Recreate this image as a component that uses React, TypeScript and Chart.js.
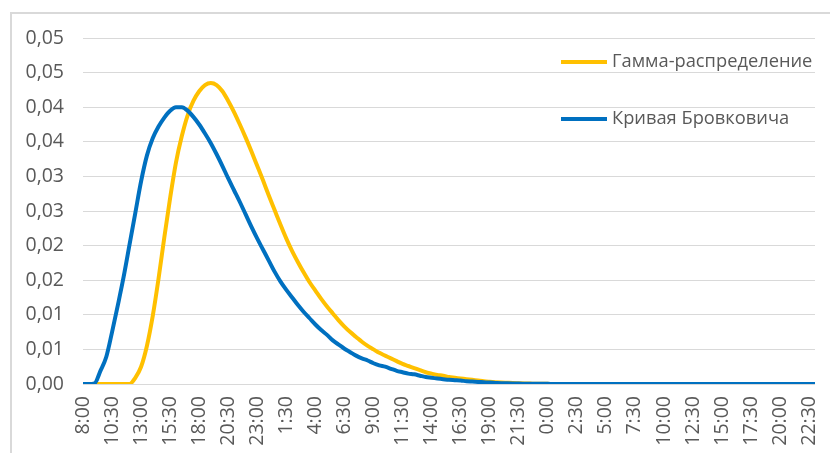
import React, { useEffect, useRef } from 'react';
import { Chart, registerables } from 'chart.js';

Chart.register(...registerables);

const seriesNames = ['Гамма-распределение', 'Кривая Бровковича'];
const seriesColors = ['#FFC000', '#0070C0'];

const xTickLabels = [
  '8:00', '10:30', '13:00', '15:30', '18:00', '20:30', '23:00', '1:30', '4:00', '6:30',
  '9:00', '11:30', '14:00', '16:30', '19:00', '21:30', '0:00', '2:30', '5:00', '7:30',
  '10:00', '12:30', '15:00', '17:30', '20:00', '22:30',
];

const yTickLabels = ['0,00', '0,01', '0,01', '0,02', '0,02', '0,03', '0,03', '0,04', '0,04', '0,05', '0,05'];
const yMin = 0;
const yMax = 0.05;
const yStep = 0.005;

// every 30 minutes, starting 8:00
const startMinute = 8 * 60;
const stepMinute = 30;

const gammaValues = [
  0, 0, 0, 0, 0, 0, 0, 0, 0, 0.0009,
  0.0025, 0.0055, 0.0098, 0.0152, 0.0212, 0.0269, 0.0320, 0.0358, 0.0388, 0.0409,
  0.0423, 0.0432, 0.0435, 0.0432, 0.0423, 0.0409, 0.0393, 0.0375, 0.0356, 0.0336,
  0.0315, 0.0294, 0.0272, 0.0251, 0.0230, 0.0210, 0.0192, 0.0176, 0.0161, 0.0147,
  0.0135, 0.0123, 0.0112, 0.0102, 0.0092, 0.0083, 0.0075, 0.0068, 0.0061, 0.0055,
  0.0050, 0.0045, 0.0041, 0.0037, 0.0033, 0.0029, 0.0026, 0.0023, 0.0020, 0.0017,
  0.0015, 0.0013, 0.0012, 0.0010, 0.0009, 0.0008, 0.0007, 0.0006, 0.0005, 0.0004,
  0.00033, 0.00027, 0.00022, 0.00018, 0.00014, 0.00011, 0.00008, 0.00006, 0.00004, 0.00003,
  0.00002, 0, 0, 0, 0, 0, 0, 0, 0, 0,
  0, 0, 0, 0, 0, 0, 0, 0, 0, 0,
  0, 0, 0, 0, 0, 0, 0, 0, 0, 0,
  0, 0, 0, 0, 0, 0, 0, 0, 0, 0,
  0, 0, 0, 0, 0, 0, 0,
];

const brovkovichValues = [
  0, 0, 0.0001, 0.0019, 0.0039, 0.0075, 0.0114, 0.0155, 0.0201, 0.0247,
  0.0293, 0.0330, 0.0355, 0.0372, 0.0385, 0.0395, 0.0400, 0.0400, 0.0395, 0.0386,
  0.0375, 0.0362, 0.0348, 0.0332, 0.0315, 0.0297, 0.0280, 0.0263, 0.0245, 0.0227,
  0.0210, 0.0194, 0.0178, 0.0162, 0.0148, 0.0136, 0.0125, 0.0114, 0.0104, 0.0095,
  0.0086, 0.0078, 0.0071, 0.0063, 0.0057, 0.0051, 0.0046, 0.0041, 0.0037, 0.0034,
  0.0030, 0.0027, 0.0025, 0.0022, 0.0019, 0.0017, 0.0015, 0.0014, 0.0012, 0.0010,
  0.0009, 0.0008, 0.0007, 0.0006, 0.00055, 0.0005, 0.0004, 0.00035, 0.0003, 0.00025,
  0.0002, 0.00016, 0.00012, 0.0001, 0.00008, 0.00006, 0.00005, 0.00004, 0.00003, 0.00002,
  0.00002, 0, 0, 0, 0, 0, 0, 0, 0, 0,
  0, 0, 0, 0, 0, 0, 0, 0, 0, 0,
  0, 0, 0, 0, 0, 0, 0, 0, 0, 0,
  0, 0, 0, 0, 0, 0, 0, 0, 0, 0,
  0, 0, 0, 0, 0, 0, 0,
];

const categories = gammaValues.map((_, i) => {
  const m = (startMinute + i * stepMinute) % 1440;
  return `${Math.floor(m / 60)}:${String(m % 60).padStart(2, '0')}`;
});

const FONT = "'Open Sans', sans-serif";
const TICK_FONT_SIZE = 19.5;
const TEXT_COLOR = '#595959';
const GRID_COLOR = '#d9d9d9';

const legendPlugin = {
  id: 'customLegend',
  afterDraw(chart: any) {
    const ctx = chart.ctx;
    const items = [
      { y: 62, base: 67 },
      { y: 119, base: 124 },
    ];
    ctx.save();
    items.forEach((it, i) => {
      ctx.strokeStyle = seriesColors[i];
      ctx.lineWidth = 4;
      ctx.lineCap = 'butt';
      ctx.beginPath();
      ctx.moveTo(561, it.y);
      ctx.lineTo(607, it.y);
      ctx.stroke();
      ctx.fillStyle = TEXT_COLOR;
      ctx.font = `18.3px ${FONT}`;
      ctx.textAlign = 'left';
      ctx.textBaseline = 'alphabetic';
      ctx.fillText(seriesNames[i], 612, it.base);
    });
    ctx.restore();
  },
};

export default function App() {
  const canvasRef = useRef<HTMLCanvasElement | null>(null);

  useEffect(() => {
    const canvas = canvasRef.current;
    if (!canvas) return;
    const chart = new Chart(canvas, {
      type: 'line',
      data: {
        labels: categories,
        datasets: [
          {
            label: seriesNames[0],
            data: gammaValues,
            borderColor: seriesColors[0],
            backgroundColor: seriesColors[0],
            borderWidth: 4,
            pointRadius: 0,
            cubicInterpolationMode: 'monotone',
            order: 1,
          },
          {
            label: seriesNames[1],
            data: brovkovichValues,
            borderColor: seriesColors[1],
            backgroundColor: seriesColors[1],
            borderWidth: 4,
            pointRadius: 0,
            cubicInterpolationMode: 'monotone',
            order: 0,
          },
        ],
      },
      options: {
        responsive: false,
        animation: false,
        devicePixelRatio: 1,
        layout: { padding: { left: 0, right: 15, top: 38, bottom: 0 } },
        plugins: {
          legend: { display: false },
          tooltip: { enabled: false },
        },
        scales: {
          x: {
            type: 'category',
            offset: false,
            grid: { display: false, drawTicks: false },
            border: { display: false },
            ticks: {
              autoSkip: false,
              minRotation: 90,
              maxRotation: 90,
              padding: 12,
              color: TEXT_COLOR,
              font: { family: FONT, size: TICK_FONT_SIZE },
              callback: (_v: any, index: number) =>
                index % 5 === 0 && xTickLabels[index / 5] !== undefined ? xTickLabels[index / 5] : '',
            },
            afterFit: (scale: any) => {
              scale.height = 69;
              scale.paddingLeft = 0;
              scale.paddingRight = 0;
            },
          },
          y: {
            min: yMin,
            max: yMax,
            grid: { color: GRID_COLOR, lineWidth: 1, drawTicks: false },
            border: { display: false },
            ticks: {
              stepSize: yStep,
              padding: 19,
              color: TEXT_COLOR,
              font: { family: FONT, size: TICK_FONT_SIZE },
              callback: (v: any) => yTickLabels[Math.round(Number(v) / yStep)] ?? '',
            },
            afterFit: (scale: any) => {
              scale.width = 83;
              scale.paddingTop = 0;
              scale.paddingBottom = 0;
            },
          },
        },
      } as any,
      plugins: [legendPlugin],
    });
    return () => chart.destroy();
  }, []);

  return (
    <div style={{ position: 'fixed', left: 0, top: 0, width: 830, height: 453, overflow: 'hidden', background: '#fff' }}>
      <div
        style={{
          position: 'absolute',
          left: 10,
          top: 12,
          width: 840,
          height: 470,
          border: `2px solid ${GRID_COLOR}`,
          boxSizing: 'border-box',
        }}
      />
      <canvas
        ref={canvasRef}
        width={830}
        height={453}
        style={{ position: 'absolute', left: 0, top: 0, width: 830, height: 453 }}
      />
    </div>
  );
}
